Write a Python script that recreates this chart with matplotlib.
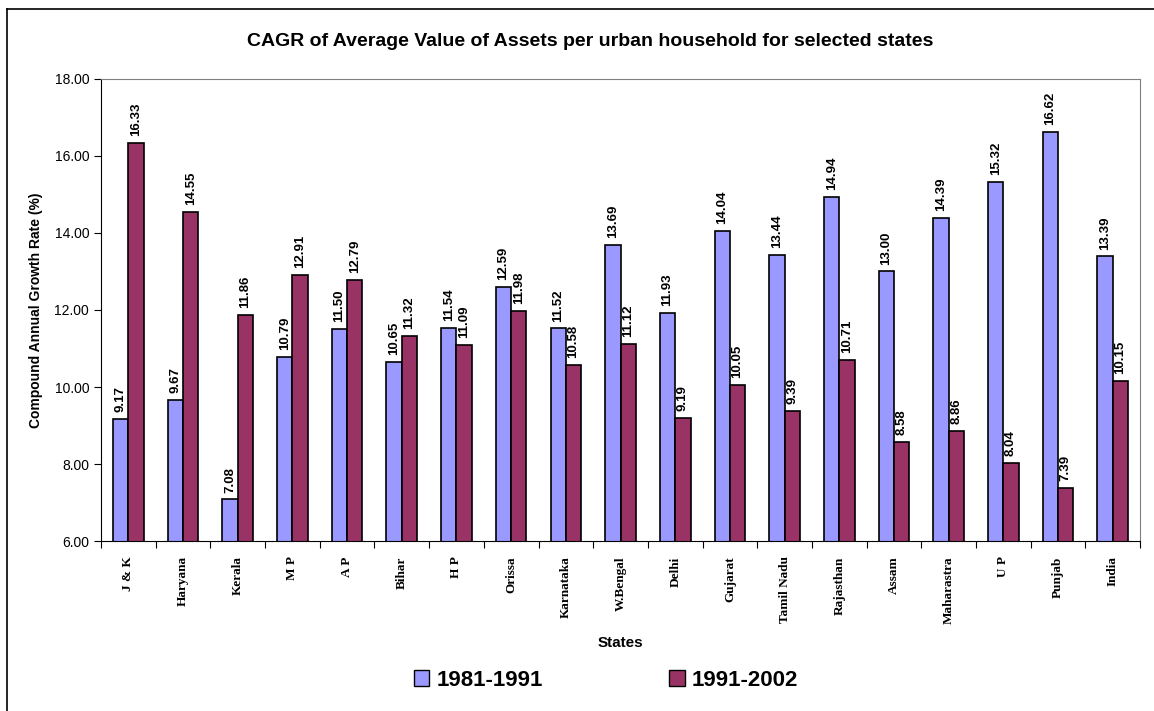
import numpy as np
import matplotlib
matplotlib.use("Agg")
import matplotlib.pyplot as plt
from matplotlib.lines import Line2D
from matplotlib.patches import Patch

states = ['J & K', 'Haryana', 'Kerala', 'M P', 'A P', 'Bihar', 'H P', 'Orissa',
          'Karnataka', 'W.Bengal', 'Delhi', 'Gujarat', 'Tamil Nadu', 'Rajasthan',
          'Assam', 'Maharastra', 'U P', 'Punjab', 'India']
cagr_8191 = [9.17, 9.67, 7.08, 10.79, 11.50, 10.65, 11.54, 12.59, 11.52, 13.69,
             11.93, 14.04, 13.44, 14.94, 13.00, 14.39, 15.32, 16.62, 13.39]
cagr_9102 = [16.33, 14.55, 11.86, 12.91, 12.79, 11.32, 11.09, 11.98, 10.58, 11.12,
             9.19, 10.05, 9.39, 10.71, 8.58, 8.86, 8.04, 7.39, 10.15]

plt.rcParams['font.family'] = ['Liberation Sans', 'DejaVu Sans']

fig = plt.figure(figsize=(11.54, 7.11), dpi=100)
ax = fig.add_axes([0.0875, 0.239, 0.9005, 0.65])

x = np.arange(len(states))
w = 0.28
blue = '#9999ff'
maroon = '#993366'
b1 = ax.bar(x - w / 2, cagr_8191, w, color=blue, edgecolor='black', linewidth=1.2)
b2 = ax.bar(x + w / 2, cagr_9102, w, color=maroon, edgecolor='black', linewidth=1.2)

for bars, vals in ((b1, cagr_8191), (b2, cagr_9102)):
    for rect, v in zip(bars, vals):
        ax.annotate('%.2f' % v, (rect.get_x() + rect.get_width() / 2, v),
                    xytext=(0, 5), textcoords='offset points', rotation=90,
                    ha='center', va='bottom', fontsize=9.5, fontweight='bold')

ax.set_ylim(6, 18)
ax.set_xlim(-0.5, len(states) - 0.5)
ticks = np.arange(6, 18.1, 2)
ax.set_yticks(ticks)
ax.set_yticklabels(['%.2f' % t for t in ticks], fontsize=10)
ax.set_xticks(np.arange(-0.5, len(states), 1))
ax.set_xticklabels([])
ax.set_xticks(x, minor=True)
ax.set_xticklabels(states, minor=True, rotation=90, fontfamily='Liberation Serif',
                   fontweight='bold', fontsize=9.5)
ax.tick_params(axis='x', which='minor', length=0, pad=11)
ax.tick_params(axis='x', which='major', length=5, direction='out')
ax.tick_params(axis='y', length=5)

for side in ('top', 'right'):
    ax.spines[side].set_color('#808080')

ax.set_ylabel('Compound Annual Growth Rate (%)', fontsize=10, fontweight='bold', labelpad=8)
ax.set_xlabel('States', fontsize=11, fontweight='bold', labelpad=9)
fig.suptitle('CAGR of Average Value of Assets per urban household for selected states',
             x=0.511, y=0.953, fontsize=14, fontweight='bold')

handles = [Patch(facecolor=blue, edgecolor='black'), Patch(facecolor=maroon, edgecolor='black')]
fig.legend(handles, ['1981-1991', '1991-2002'], loc='center', bbox_to_anchor=(0.525, 0.043),
           ncol=2, frameon=False, prop={'weight': 'bold', 'size': 16},
           handlelength=0.7, handleheight=0.7, handletextpad=0.3, columnspacing=5.7)

# outer chart border
fig.add_artist(Line2D([7 / 1154, 7 / 1154], [0, 1 - 9 / 711], color='black', lw=1.2,
                      transform=fig.transFigure))
fig.add_artist(Line2D([7 / 1154, 1], [1 - 9 / 711, 1 - 9 / 711], color='black', lw=1.2,
                      transform=fig.transFigure))

fig.savefig('out.png', dpi=100)
